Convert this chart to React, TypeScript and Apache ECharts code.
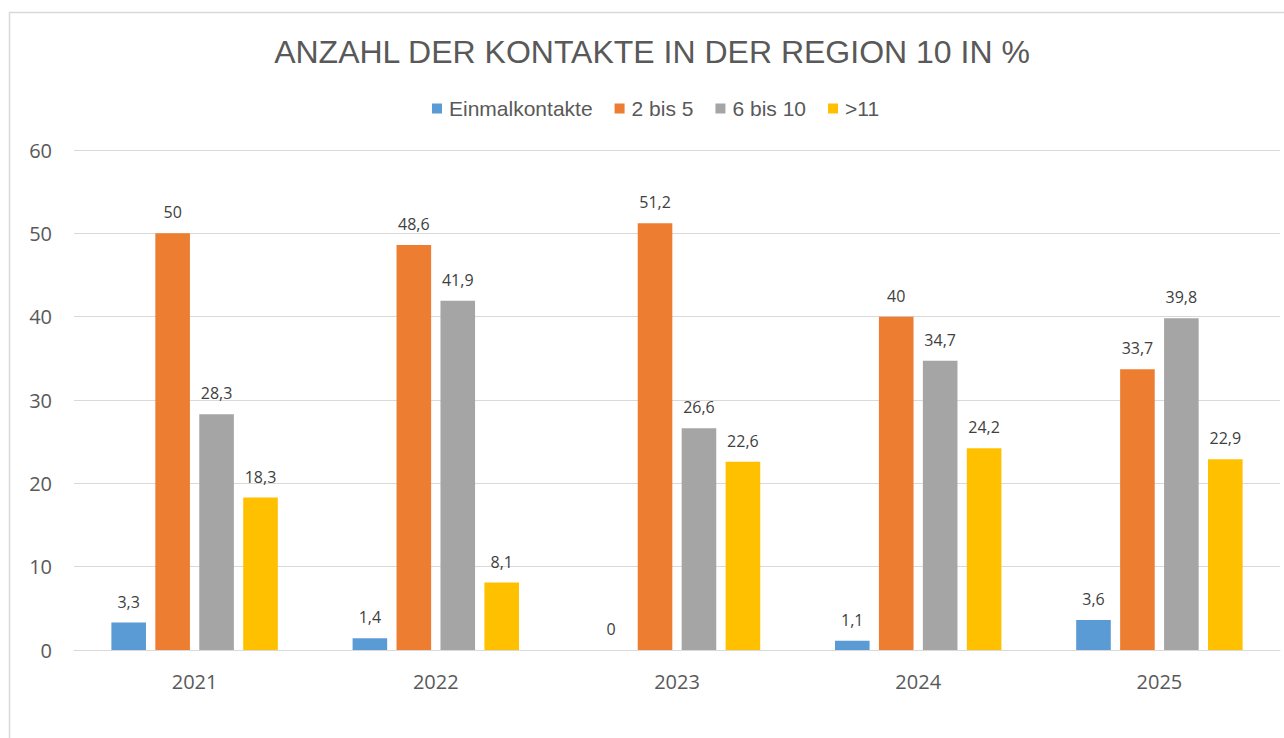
import React, { useEffect, useRef } from "react";
import * as echarts from "echarts";

const categories = ["2021", "2022", "2023", "2024", "2025"];
const seriesNames = ["Einmalkontakte", "2 bis 5", "6 bis 10", ">11"];
const einmal = [3.3, 1.4, 0, 1.1, 3.6];
const zweiBisFuenf = [50, 48.6, 51.2, 40, 33.7];
const sechsBisZehn = [28.3, 41.9, 26.6, 34.7, 39.8];
const ueberElf = [18.3, 8.1, 22.6, 24.2, 22.9];
const colors = ["#5B9BD5", "#ED7D31", "#A5A5A5", "#FFC000"];
const yTicks = { min: 0, max: 60, interval: 10 };

export default function App() {
  const ref = useRef<HTMLDivElement>(null);
  useEffect(() => {
    if (!ref.current) return;
    const chart = echarts.init(ref.current, null, { renderer: "svg" });
    const values = [einmal, zweiBisFuenf, sechsBisZehn, ueberElf];
    chart.setOption({
      animation: false,
      backgroundColor: "#ffffff",
      title: {
        text: "ANZAHL DER KONTAKTE IN DER REGION 10 IN %",
        left: 647,
        top: 31,
        textAlign: "center",
        textStyle: {
          fontFamily: "Liberation Sans, Arial, sans-serif",
          fontSize: 32,
          fontWeight: "normal",
          color: "#595959",
        },
      },
      legend: {
        data: seriesNames,
        left: 427,
        top: 93,
        icon: "rect",
        itemWidth: 10,
        itemHeight: 10,
        itemGap: 22,
        textStyle: {
          fontFamily: "Liberation Sans, Arial, sans-serif",
          fontSize: 21,
          color: "#595959",
          padding: [0, 0, 0, 2],
        },
      },
      graphic: [
        {
          type: "rect",
          shape: { x: 9.5, y: 12.5, width: 1300, height: 760 },
          style: { fill: "none", stroke: "#d9d9d9", lineWidth: 1.5 },
          silent: true,
          z: 0,
        },
      ],
      grid: { left: 74, right: 4, top: 150, bottom: 88, containLabel: false },
      xAxis: {
        type: "category",
        data: categories,
        axisLine: { show: true, lineStyle: { color: "#d9d9d9", width: 1 } },
        axisTick: { show: false },
        axisLabel: {
          margin: 21,
          fontFamily: "Open Sans, sans-serif",
          fontSize: 20,
          color: "#595959",
        },
      },
      yAxis: {
        type: "value",
        min: yTicks.min,
        max: yTicks.max,
        interval: yTicks.interval,
        axisLine: { show: false },
        axisTick: { show: false },
        splitLine: { lineStyle: { color: "#d9d9d9", width: 1 } },
        axisLabel: {
          margin: 22,
          fontFamily: "Open Sans, sans-serif",
          fontSize: 20,
          color: "#595959",
        },
      },
      series: seriesNames.map((name, i) => ({
        name,
        type: "bar",
        data: values[i],
        barGap: "27%",
        barCategoryGap: "31%",
        itemStyle: { color: colors[i] },
        label: {
          show: true,
          position: "top",
          distance: 13,
          fontFamily: "Open Sans, sans-serif",
          fontSize: 16,
          color: "#404040",
          formatter: (p: any) => String(p.value).replace(".", ","),
        },
      })),
    });
    return () => chart.dispose();
  }, []);
  return (
    <div
      ref={ref}
      style={{ position: "fixed", left: 0, top: 0, width: 1284, height: 738 }}
    />
  );
}
